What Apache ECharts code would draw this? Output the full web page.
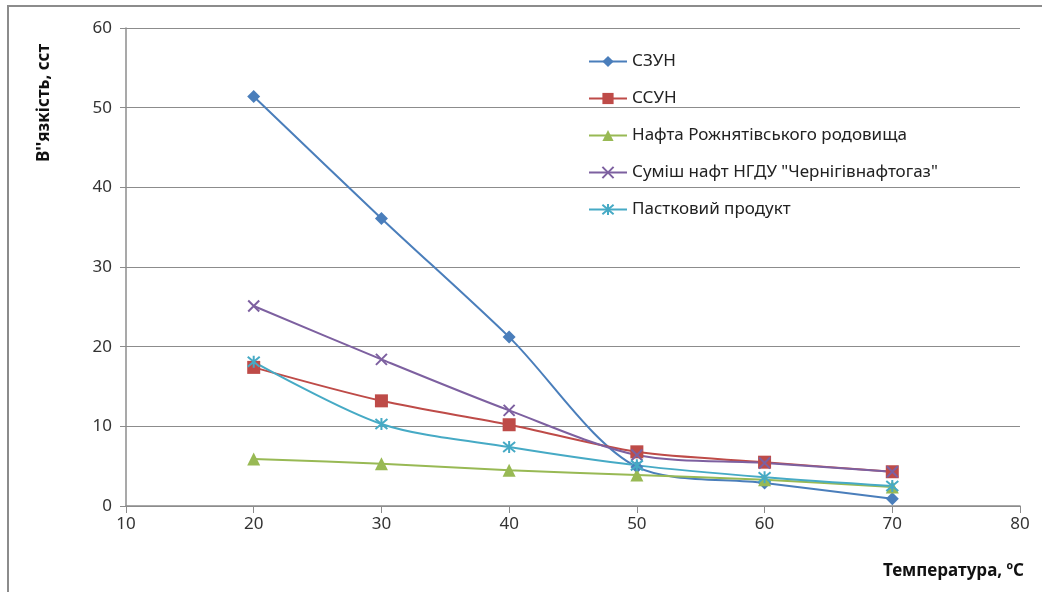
<!DOCTYPE html>
<html>
<head>
<meta charset="utf-8">
<script src="https://cdn.jsdelivr.net/npm/echarts@6/dist/echarts.min.js"></script>
<style>
  html, body { margin: 0; padding: 0; background: #fff; }
  #chart { width: 1042px; height: 592px; }
</style>
</head>
<body>
<div id="chart"></div>
<script>
// температура, ºC
const temps = [20, 30, 40, 50, 60, 70];

// в'язкість, сст
const szun = [51.4, 36.1, 21.2, 4.9, 2.9, 0.9];
const ssun = [17.4, 13.2, 10.2, 6.8, 5.5, 4.3];
const naftaRozhn = [5.9, 5.3, 4.5, 3.9, 3.3, 2.4];
const sumishNgdu = [25.1, 18.4, 12.0, 6.4, 5.4, 4.3];
const pastkovyi = [18.1, 10.3, 7.4, 5.1, 3.6, 2.5];

const seriesNames = [
  'СЗУН',
  'ССУН',
  'Нафта Рожнятівського родовища',
  'Суміш нафт НГДУ "Чернігівнафтогаз"',
  'Пастковий продукт'
];

const font = 'Noto Sans';
const chart = echarts.init(document.getElementById('chart'));

function pairs(vals) {
  return temps.map((t, i) => [t, vals[i]]);
}

// x та зірочка — лише контур
const crossPath = 'path://M0,0L10,10M10,0L0,10';
const starPath = 'path://M0,0L10,10M10,0L0,10M5,-1L5,11';

function makeSeries(name, vals, color, symbol, size, stroked) {
  return {
    name: name,
    type: 'line',
    smooth: 0.3,
    data: pairs(vals),
    symbol: symbol,
    symbolSize: size,
    lineStyle: { color: color, width: 2 },
    itemStyle: stroked
      ? { color: 'rgba(0,0,0,0)', borderColor: color, borderWidth: 2 }
      : { color: color, borderWidth: 0 },
    emphasis: { disabled: true }
  };
}

const option = {
  animation: false,
  backgroundColor: '#fff',
  grid: { left: 126, right: 22, top: 28, bottom: 86 },
  legend: {
    orient: 'vertical',
    left: 588,
    top: 53,
    padding: 0,
    itemWidth: 38,
    itemHeight: 14,
    itemGap: 20,
    textStyle: { fontFamily: font, fontSize: 17, color: '#222' },
    data: seriesNames
  },
  xAxis: {
    type: 'value',
    min: 10, max: 80, interval: 10,
    axisLine: { lineStyle: { color: '#8c8c8c', width: 1.5 } },
    axisTick: { show: true, length: 7, lineStyle: { color: '#8c8c8c' } },
    axisLabel: { fontFamily: font, fontSize: 17, color: '#333', margin: 10 },
    splitLine: { show: false }
  },
  yAxis: {
    type: 'value',
    min: 0, max: 60, interval: 10,
    axisLine: { show: true, lineStyle: { color: '#8c8c8c', width: 1.5 } },
    axisTick: { show: true, length: 6, lineStyle: { color: '#8c8c8c' } },
    axisLabel: { fontFamily: font, fontSize: 17, color: '#333', margin: 14 },
    splitLine: { lineStyle: { color: '#8c8c8c', width: 1.2 } }
  },
  graphic: [
    {
      type: 'rect',
      shape: { x: 8, y: 6, width: 1200, height: 800 },
      style: { fill: 'none', stroke: '#8c8c8c', lineWidth: 2 },
      silent: true
    },
    {
      type: 'text',
      x: 44, y: 103,
      rotation: Math.PI / 2,
      style: {
        text: "В''язкість, сст",
        font: 'bold 17px "Noto Sans"',
        fill: '#111',
        align: 'center',
        verticalAlign: 'middle'
      }
    },
    {
      type: 'text',
      right: 18, top: 563,
      style: {
        text: 'Температура, ºC',
        font: 'bold 17px "Noto Sans"',
        fill: '#111'
      }
    }
  ],
  series: [
    makeSeries(seriesNames[0], szun, '#4A7EBB', 'diamond', 13, false),
    makeSeries(seriesNames[1], ssun, '#BE4B48', 'rect', 13, false),
    makeSeries(seriesNames[2], naftaRozhn, '#98B954', 'triangle', 13, false),
    makeSeries(seriesNames[3], sumishNgdu, '#7D60A0', crossPath, 11, true),
    makeSeries(seriesNames[4], pastkovyi, '#46AAC5', starPath, 12, true)
  ]
};

chart.setOption(option);
</script>
</body>
</html>
